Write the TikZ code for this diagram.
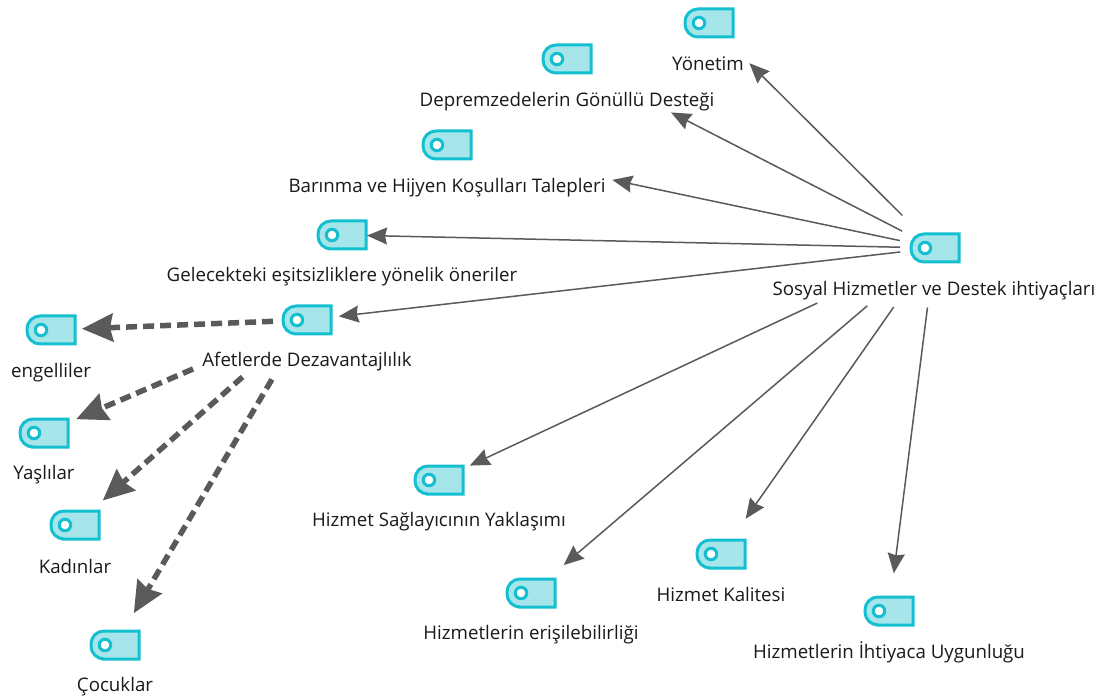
\documentclass[tikz,border=0pt]{standalone}
\usepackage{fontspec}
\setmainfont{Open Sans}
\usetikzlibrary{arrows.meta}
\definecolor{tagfill}{HTML}{A6E5EA}
\definecolor{tagline}{HTML}{14BFCF}
\definecolor{linkgray}{HTML}{5A5A5A}
\definecolor{labelink}{HTML}{1A1A1A}
\tikzset{
  iconbody/.style={draw=tagline,fill=tagfill,line width=3pt,line join=miter},
  icondot/.style={circle,draw=tagline,fill=white,line width=3pt,minimum size=11.5pt,inner sep=0pt},
  iconmark/.style={circle,minimum size=1pt,inner sep=0pt},
  tagtext/.style={text=labelink,font=\fontsize{18.7}{22}\selectfont,inner sep=0pt,anchor=center},
  solidlink/.style={draw=linkgray,line width=1.5pt,-{Stealth[length=20pt,width=17pt,inset=2pt]}},
  dashlink/.style={draw=linkgray,line width=5.5pt,dash pattern=on 11pt off 6pt,-{Stealth[length=31pt,width=28pt,inset=3pt]}}
}
\newcommand{\tagicon}[4]{%
  \begin{scope}[shift={(#2)}]
    \draw[iconbody] (24,14) -- (24,-14) {[rounded corners=13pt] -- (-24,-14) -- (-24,14) -- (0,14)} -- cycle;
    \node[icondot] (#1dot) at (-10,0) {};
    \node[iconmark] (#1) at (0,0) {};
  \end{scope}
  \node[tagtext] (#1label) at (#3) {#4};
}
\begin{document}
\begin{tikzpicture}[x=1pt,y=-1pt]
\useasboundingbox (0,0) rectangle (1105,700);
\fill[white] (0,0) rectangle (1105,700);
\tagicon{yon}{709,23}{708,64}{Yönetim}
\tagicon{dep}{567,59}{567,102}{Depremzedelerin Gönüllü Desteği}
\tagicon{bar}{447,145}{447,188}{Barınma ve Hijyen Koşulları Talepleri}
\tagicon{gel}{342,235}{342,277}{Gelecekteki eşitsizliklere yönelik öneriler}
\tagicon{afe}{307,320}{307,362}{Afetlerde Dezavantajlılık}
\tagicon{eng}{51,330}{51,373}{engelliler}
\tagicon{yas}{44,433}{44,475}{Yaşlılar}
\tagicon{kad}{75,525}{75,566}{Kadınlar}
\tagicon{coc}{115,645}{115,687}{Çocuklar}
\tagicon{sos}{935,248}{934,291}{Sosyal Hizmetler ve Destek ihtiyaçları}
\tagicon{sag}{439,480}{439,522}{Hizmet Sağlayıcının Yaklaşımı}
\tagicon{eri}{531,593}{531,635}{Hizmetlerin erişilebilirliği}
\tagicon{kal}{721,554}{721,594}{Hizmet Kalitesi}
\tagicon{uyg}{889,611}{889,652}{Hizmetlerin İhtiyaca Uygunluğu}
\draw[solidlink,shorten <=46pt,shorten >=57pt] (sos.center) -- (yon.center);
\draw[solidlink,shorten <=37pt,shorten >=117pt] (sos.center) -- (dep.center);
\draw[solidlink,shorten <=36pt,shorten >=169pt] (sos.center) -- (bar.center);
\draw[solidlink,shorten <=35pt,shorten >=25pt] (sos.center) -- (gel.center);
\draw[solidlink,shorten <=35pt,shorten >=32pt] (sos.center) -- (afe.center);
\draw[solidlink,shorten <=130pt,shorten >=34pt] (sos.center) -- (sag.center);
\draw[solidlink,shorten <=89pt,shorten >=43pt] (sos.center) -- (eri.center);
\draw[solidlink,shorten <=72pt,shorten >=43pt] (sos.center) -- (kal.center);
\draw[solidlink,shorten <=60pt,shorten >=38pt] (sos.center) -- (uyg.center);
\draw[dashlink,shorten <=34pt,shorten >=31pt] (afe.center) -- (eng.center);
\draw[dashlink,shorten <=124pt,shorten >=35pt] (afe.center) -- (yas.center);
\draw[dashlink,shorten <=86pt,shorten >=37pt] (afe.center) -- (kad.center);
\draw[dashlink,shorten <=69pt,shorten >=37pt] (afe.center) -- (coc.center);
\end{tikzpicture}
\end{document}
